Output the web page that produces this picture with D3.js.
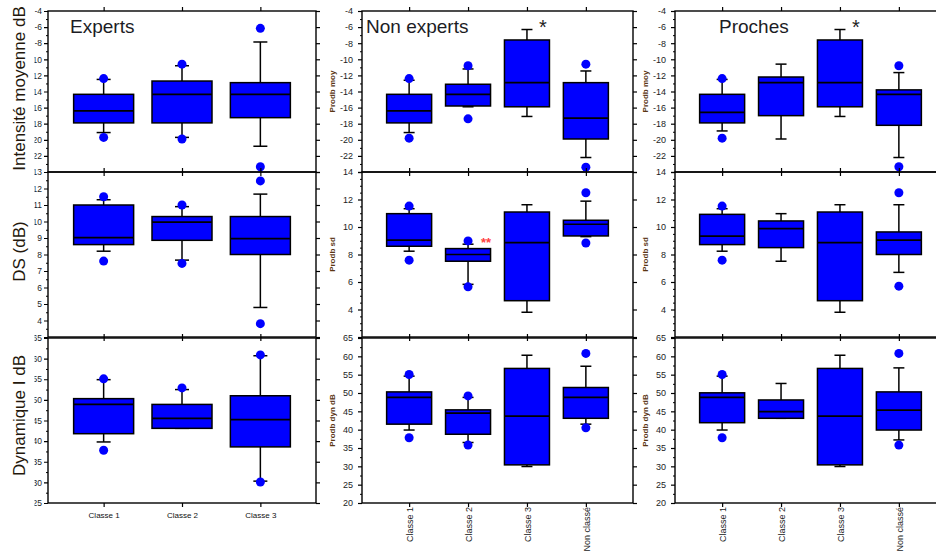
<!DOCTYPE html>
<html><head><meta charset="utf-8">
<script src="https://cdn.jsdelivr.net/npm/d3@7"></script>
<style>body{margin:0;background:#fff}svg{display:block;font-family:"Liberation Sans",Arial,sans-serif}</style>
</head><body><svg id="c" width="936" height="553"></svg>
<script>
// ---------- data ----------
const groups = ["Experts", "Non experts", "Proches"];
const classesExperts = ["Classe 1", "Classe 2", "Classe 3"];
const classesOthers = ["Classe 1", "Classe 2", "Classe 3", "Non classé"];
const rowTitlesLeft = ["Intensité moyenne dB", "DS (dB)", "Dynamique I dB"];
const rowTitlesOther = ["Prodb moy", "Prodb sd", "Prodb dyn dB"];

// box stats per class: [lower whisker, Q1, median, Q3, upper whisker]
const expertsMoy = [[-19.1,-17.9,-16.4,-14.35,-12.5],[-19.7,-17.9,-14.35,-12.7,-10.8],[-20.8,-17.25,-14.35,-12.9,-7.85]];
const expertsMoyOut = [[-12.4,-19.7],[-10.6,-19.9],[-6.15,-23.35]];
const expertsSd = [[8.2,8.6,9.02,11.0,11.32],[7.66,8.86,9.96,10.3,10.9],[4.79,8.0,8.96,10.3,11.66]];
const expertsSdOut = [[11.5,7.6],[11.0,7.46],[12.46,3.81]];
const expertsDyn = [[39.8,41.8,48.9,50.3,54.9],[43.1,43.1,45.5,48.9,52.5],[30.3,38.6,45.2,51.0,60.7]];
const expertsDynOut = [[55.1,37.8],[52.9],[60.9,30.1]];

const nonExpMoy = [[-19.1,-17.9,-16.4,-14.35,-12.6],[-15.9,-15.8,-14.35,-13.1,-11.2],[-17.1,-15.9,-12.9,-7.6,-6.3],[-22.2,-19.9,-17.3,-12.9,-11.45]];
const nonExpMoyOut = [[-12.4,-19.8],[-10.8,-17.4],[],[-10.6,-23.4]];
const nonExpSd = [[8.24,8.6,9.04,10.97,11.33],[5.83,7.51,8.0,8.43,8.75],[3.8,4.64,8.87,11.09,11.62],[9.3,9.35,10.2,10.49,11.88]];
const nonExpSdOut = [[11.52,7.59],[8.99,5.65],[],[12.49,8.84]];
const nonExpDyn = [[39.9,41.5,48.8,50.3,54.6],[36.5,38.75,44.5,45.4,48.8],[29.95,30.4,43.7,56.7,60.3],[41.5,43.1,48.8,51.5,57.3]];
const nonExpDynOut = [[55.05,37.8],[49.2,35.8],[],[60.8,40.5]];

const prochesMoy = [[-18.9,-17.9,-16.6,-14.35,-12.5],[-19.9,-17.0,-12.9,-12.2,-10.6],[-17.1,-15.9,-12.9,-7.6,-6.3],[-22.2,-18.2,-14.35,-13.8,-11.65]];
const prochesMoyOut = [[-12.4,-19.8],[],[],[-10.8,-23.35]];
const prochesSd = [[8.24,8.72,9.33,10.92,11.33],[7.51,8.5,9.88,10.44,10.97],[3.8,4.64,8.87,11.09,11.62],[6.7,8.0,9.04,9.64,11.62]];
const prochesSdOut = [[11.52,7.59],[],[],[12.49,5.7]];
const prochesDyn = [[39.9,41.9,48.8,50.05,54.6],[43.1,43.1,44.9,48.1,52.6],[29.95,30.4,43.7,56.7,60.3],[37.2,39.9,45.35,50.3,56.85]];
const prochesDynOut = [[55.05,37.8],[],[],[60.8,35.8]];

// axis ticks
const ticksMoy = [-4,-6,-8,-10,-12,-14,-16,-18,-20,-22,-24];
const ticksSdExperts = [13,12,11,10,9,8,7,6,5,4,3];
const ticksSd = [14,12,10,8,6,4,2];
const ticksDynExperts = [65,60,55,50,45,40,35,30,25];
const ticksDyn = [65,60,55,50,45,40,35,30,25,20];

// ---------- layout ----------
const cols = [{x0:48,x1:316,pad:0.71,box:60,cap:14,font:8.5},
              {x0:362,x1:633,pad:0.8,box:45,cap:11,font:9},
              {x0:675,x1:946,pad:0.8,box:45,cap:11,font:9}];
const rows = [{y0:11,y1:172},{y0:172,y1:337},{y0:338,y1:503}];

const panels = [
  {c:0,r:0,cats:classesExperts,stats:expertsMoy,out:expertsMoyOut,ticks:ticksMoy,minorStep:1},
  {c:0,r:1,cats:classesExperts,stats:expertsSd,out:expertsSdOut,ticks:ticksSdExperts,minorStep:0.5},
  {c:0,r:2,cats:classesExperts,stats:expertsDyn,out:expertsDynOut,ticks:ticksDynExperts,minorStep:2.5},
  {c:1,r:0,cats:classesOthers,stats:nonExpMoy,out:nonExpMoyOut,ticks:ticksMoy,minorStep:1},
  {c:1,r:1,cats:classesOthers,stats:nonExpSd,out:nonExpSdOut,ticks:ticksSd,minorStep:0.5},
  {c:1,r:2,cats:classesOthers,stats:nonExpDyn,out:nonExpDynOut,ticks:ticksDyn,minorStep:2.5},
  {c:2,r:0,cats:classesOthers,stats:prochesMoy,out:prochesMoyOut,ticks:ticksMoy,minorStep:1},
  {c:2,r:1,cats:classesOthers,stats:prochesSd,out:prochesSdOut,ticks:ticksSd,minorStep:0.5},
  {c:2,r:2,cats:classesOthers,stats:prochesDyn,out:prochesDynOut,ticks:ticksDyn,minorStep:2.5}
];

const svg = d3.select("#c");
// clip in the local coordinates of the left axis group (translated by x0 = 48)
svg.append("defs").append("clipPath").attr("id","leftClip")
  .append("rect").attr("x",34.5 - cols[0].x0).attr("y",0).attr("width",400).attr("height",553);

const BLUE = "#0000ff";
const LBL = "#1c1c24";

panels.forEach(p => {
  const col = cols[p.c], row = rows[p.r];
  const ext = d3.extent(p.ticks);
  const y = d3.scaleLinear().domain(ext).range([row.y1, row.y0]);
  const x = d3.scalePoint().domain(p.cats).range([col.x0, col.x1]).padding(col.pad);
  const g = svg.append("g");

  // minor ticks
  const minor = d3.range(ext[0], ext[1] + 1e-9, p.minorStep).filter(v => !p.ticks.includes(v));
  g.append("g").attr("transform",`translate(${col.x0},0)`)
    .call(d3.axisLeft(y).tickValues(minor).tickSize(2).tickFormat(""))
    .call(a => a.select(".domain").remove())
    .selectAll("line").attr("stroke","#000").attr("stroke-width",1);

  // major left ticks with labels
  const bottomVal = ext[0];
  const left = g.append("g").attr("transform",`translate(${col.x0},0)`)
    .call(d3.axisLeft(y).tickValues(p.ticks).tickSize(4).tickPadding(p.c === 0 ? 2 : 5)
      .tickFormat(d => (p.r < 2 && d === bottomVal) ? "" : String(d)))
    .call(a => a.select(".domain").remove());
  left.selectAll("line").attr("stroke","#000").attr("stroke-width",1.2);
  left.selectAll("text").attr("fill",LBL).style("font-size",col.font+"px")
    .style("font-family",'"Liberation Sans",Arial,sans-serif');
  if (p.c === 0) left.attr("clip-path","url(#leftClip)");

  // right ticks
  g.append("g").attr("transform",`translate(${col.x1},0)`)
    .call(d3.axisRight(y).tickValues(p.ticks).tickSize(4).tickFormat(""))
    .call(a => a.select(".domain").remove())
    .selectAll("line").attr("stroke","#000").attr("stroke-width",1.2);

  // top & bottom category ticks
  g.append("g").attr("transform",`translate(0,${row.y0})`)
    .call(d3.axisTop(x).tickSize(4).tickFormat(""))
    .call(a => a.select(".domain").remove())
    .selectAll("line").attr("stroke","#000").attr("stroke-width",1.2);
  const bottom = g.append("g").attr("transform",`translate(0,${row.y1})`)
    .call(d3.axisBottom(x).tickSize(4).tickFormat(p.r === 2 ? (d => d) : ""))
    .call(a => a.select(".domain").remove());
  bottom.selectAll("line").attr("stroke","#000").attr("stroke-width",1.2);
  if (p.r === 2) {
    if (p.c === 0) {
      bottom.selectAll("text").attr("fill","#111").style("font-size","8px").attr("dy","1em");
    } else {
      bottom.selectAll("text").attr("fill",LBL).style("font-size","9px")
        .attr("transform","rotate(-90)").attr("text-anchor","end")
        .attr("x",-4).attr("y",0).attr("dy","0.35em");
    }
  }

  // frame
  g.append("rect").attr("x",col.x0).attr("y",row.y0)
    .attr("width",col.x1-col.x0).attr("height",row.y1-row.y0)
    .attr("fill","none").attr("stroke","#000").attr("stroke-width",1.4);

  // boxes
  const bw = col.box, cw = col.cap;
  p.cats.forEach((cat, i) => {
    const s = p.stats[i], cx = x(cat);
    const bg = g.append("g");
    bg.append("line").attr("x1",cx).attr("x2",cx).attr("y1",y(s[3])).attr("y2",y(s[4]))
      .attr("stroke","#000").attr("stroke-width",1.5);
    bg.append("line").attr("x1",cx).attr("x2",cx).attr("y1",y(s[1])).attr("y2",y(s[0]))
      .attr("stroke","#000").attr("stroke-width",1.5);
    [s[0], s[4]].forEach(v => bg.append("line").attr("x1",cx-cw/2).attr("x2",cx+cw/2)
      .attr("y1",y(v)).attr("y2",y(v)).attr("stroke","#000").attr("stroke-width",1.5));
    bg.append("rect").attr("x",cx-bw/2).attr("y",y(s[3]))
      .attr("width",bw).attr("height",Math.max(1,y(s[1])-y(s[3])))
      .attr("fill",BLUE).attr("stroke","#000").attr("stroke-width",1.5);
    bg.append("line").attr("x1",cx-bw/2).attr("x2",cx+bw/2).attr("y1",y(s[2])).attr("y2",y(s[2]))
      .attr("stroke","#000").attr("stroke-width",1.7);
    bg.selectAll("circle.o").data(p.out[i]).join("circle").attr("class","o")
      .attr("cx",cx).attr("cy",d => y(d)).attr("r",4.5).attr("fill",BLUE);
  });

  // y title
  if (p.c === 0) {
    svg.append("text").attr("transform",`translate(25,${(row.y0+row.y1)/2+(p.r===2?-5:-3)}) rotate(-90)`)
      .attr("text-anchor","middle").attr("fill","#24180c").style("font-size","17px")
      .text(rowTitlesLeft[p.r]);
  } else {
    svg.append("text").attr("transform",`translate(${col.x0-27},${(row.y0+row.y1)/2}) rotate(-90)`)
      .attr("text-anchor","middle").attr("fill","#5a3614").style("font-size","8px").style("font-weight","bold")
      .text(rowTitlesOther[p.r]);
  }
});

// group titles
const titleX = [70, 366, 719];
groups.forEach((t, i) => {
  svg.append("text").attr("x",titleX[i]).attr("y",33).attr("fill","#1c1c24")
    .style("font-size","19px").text(t);
});

// significance marks
function starX(c) {
  const col = cols[c];
  const x = d3.scalePoint().domain(classesOthers).range([col.x0, col.x1]).padding(col.pad);
  return x("Classe 3") + 16;
}
svg.append("text").attr("x",starX(1)).attr("y",34).attr("text-anchor","middle").style("font-size","20px").attr("fill","#222").text("*");
svg.append("text").attr("x",starX(2)).attr("y",34).attr("text-anchor","middle").style("font-size","20px").attr("fill","#222").text("*");
svg.append("text").attr("x",486).attr("y",247).attr("text-anchor","middle").style("font-size","13px")
  .style("font-weight","bold").attr("fill","#ff4040").text("**");
</script></body></html>
